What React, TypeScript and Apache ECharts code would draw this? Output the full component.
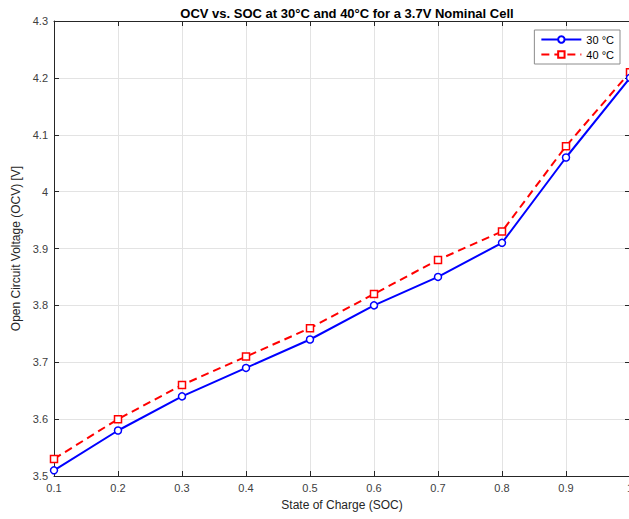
import React, { useEffect, useRef } from "react";
import * as echarts from "echarts";

const soc = [0.1, 0.2, 0.3, 0.4, 0.5, 0.6, 0.7, 0.8, 0.9, 1.0];
const ocv30 = [3.51, 3.58, 3.64, 3.69, 3.74, 3.8, 3.85, 3.91, 4.06, 4.2];
const ocv40 = [3.53, 3.6, 3.66, 3.71, 3.76, 3.82, 3.88, 3.93, 4.08, 4.21];
const seriesNames = ["30 °C", "40 °C"];

const FONT = "Liberation Sans";
const fmt = (v: number) => String(+v.toFixed(1));

export default function App() {
  const ref = useRef<HTMLDivElement>(null);
  useEffect(() => {
    const chart = echarts.init(ref.current!, null, { renderer: "svg" });
    const tickStyle = { show: true, inside: true, length: 5, lineStyle: { color: "#262626" } };
    const axisLineStyle = { show: true, lineStyle: { color: "#262626", width: 1 } };
    chart.setOption({
      animation: false,
      backgroundColor: "#ffffff",
      textStyle: { fontFamily: FONT },
      title: {
        text: "OCV vs. SOC at 30°C and 40°C for a 3.7V Nominal Cell",
        left: 342,
        top: 2,
        textAlign: "center",
        textStyle: { fontFamily: FONT, fontSize: 13, fontWeight: "bold", color: "#000" },
      },
      grid: { left: 54, width: 576, top: 21, bottom: 43, outerBoundsMode: "none", containLabel: false },
      legend: {
        orient: "vertical",
        right: 9,
        top: 30,
        data: seriesNames,
        itemWidth: 40,
        itemHeight: 8,
        itemGap: 4,
        padding: [4, 6, 4, 6],
        borderColor: "#8c8c8c",
        borderWidth: 1,
        backgroundColor: "#fff",
        textStyle: { fontFamily: FONT, fontSize: 11, color: "#000" },
      },
      xAxis: [
        {
          type: "value",
          min: 0.1,
          max: 1,
          interval: 0.1,
          name: "State of Charge (SOC)",
          nameLocation: "middle",
          nameGap: 23,
          nameTextStyle: { fontFamily: FONT, fontSize: 12, color: "#262626" },
          axisLine: axisLineStyle,
          axisTick: tickStyle,
          axisLabel: { formatter: fmt, fontFamily: FONT, fontSize: 11, color: "#404040", margin: 6 },
          splitLine: { show: true, lineStyle: { color: "#e3e3e3", width: 1 } },
        },
        {
          type: "value",
          position: "top",
          min: 0.1,
          max: 1,
          interval: 0.1,
          axisLine: axisLineStyle,
          axisTick: tickStyle,
          axisLabel: { show: false },
          splitLine: { show: false },
        },
      ],
      yAxis: [
        {
          type: "value",
          min: 3.5,
          max: 4.3,
          interval: 0.1,
          name: "Open Circuit Voltage (OCV) [V]",
          nameLocation: "middle",
          nameGap: 31,
          nameTextStyle: { fontFamily: FONT, fontSize: 12, color: "#262626" },
          axisLine: axisLineStyle,
          axisTick: tickStyle,
          axisLabel: { formatter: fmt, fontFamily: FONT, fontSize: 11, color: "#404040", margin: 6 },
          splitLine: { show: true, lineStyle: { color: "#e3e3e3", width: 1 } },
        },
        {
          type: "value",
          position: "right",
          min: 3.5,
          max: 4.3,
          interval: 0.1,
          axisLine: axisLineStyle,
          axisTick: tickStyle,
          axisLabel: { show: false },
          splitLine: { show: false },
        },
      ],
      series: [
        {
          name: seriesNames[0],
          type: "line",
          data: soc.map((x, i) => [x, ocv30[i]]),
          symbol: "circle",
          symbolSize: 7,
          lineStyle: { color: "#0000ff", width: 2 },
          itemStyle: { color: "#ffffff", borderColor: "#0000ff", borderWidth: 1.5 },
          z: 3,
        },
        {
          name: seriesNames[1],
          type: "line",
          data: soc.map((x, i) => [x, ocv40[i]]),
          symbol: "rect",
          symbolSize: 7,
          lineStyle: { color: "#ff0000", width: 2, type: [8, 5] },
          itemStyle: { color: "#ffffff", borderColor: "#ff0000", borderWidth: 1.5 },
          z: 2,
        },
      ],
    });
    return () => chart.dispose();
  }, []);
  return (
    <div
      ref={ref}
      style={{ position: "fixed", left: 0, top: 0, width: 629, height: 519 }}
    />
  );
}
